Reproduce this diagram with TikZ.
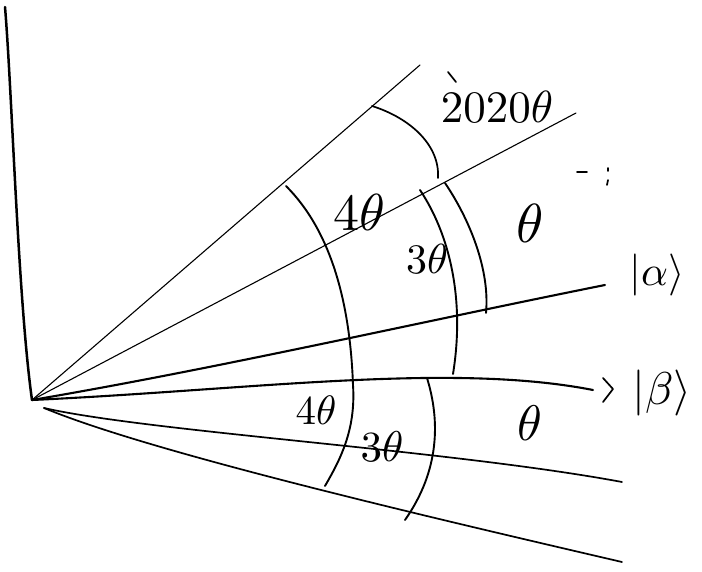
\documentclass[tikz,border=0pt]{standalone}
\usetikzlibrary{calc}
\tikzset{
  every picture/.style={line cap=round, line join=round},
  thinray/.style={line width=1.1pt},
  ray/.style={line width=2.1pt},
  arcline/.style={line width=1.9pt},
  pen/.style={line width=1.7pt},
  lbl/.style={scale=#1, inner sep=0pt},
  lbl/.default=4,
}
\begin{document}
\begin{tikzpicture}[x=1pt, y=-1pt]
  \useasboundingbox (0,0) rectangle (702,572);
  \coordinate (O) at (32,400);
  \coordinate (O2) at (44,408);
  \coordinate (top) at (5,7);
  \coordinate (r1) at (420,65);
  \coordinate (r2) at (576,113);
  \coordinate (ra) at (605,285);
  \coordinate (rb) at (593,390);
  \coordinate (rc) at (622,482);
  \coordinate (rd) at (622,562);
  \draw[ray, line width=2.5pt] (top) .. controls (12,90) and (18,300) .. (O);
  \draw[thinray] (O) -- (r1);
  \draw[thinray] (O) -- (r2);
  \draw[ray] (O) .. controls (220,368) and (420,322) .. (ra);
  \draw[ray] (O) .. controls (250,390) and (450,362) .. (rb);
  \draw[pen] ($(rb)+(10,-12)$) -- ($(rb)+(20,-1)$) -- ($(rb)+(10,12)$);
  \draw[pen] (O2) .. controls (150,432) and (450,450) .. (rc);
  \draw[pen] (O2) .. controls (150,452) and (420,515) .. (rd);
  % arcs
  \draw[pen] (372,106) .. controls (410,118) and (440,145) .. (438,178);
  \draw[arcline] (286,186) .. controls (330,230) and (350,300) .. (353,385)
    .. controls (356,430) and (340,460) .. (325,486);
  \draw[arcline] (420,190) .. controls (450,235) and (465,300) .. (453,374);
  \draw[arcline] (445,183) .. controls (470,220) and (490,270) .. (486,313);
  \draw[arcline] (427,378) .. controls (440,420) and (440,470) .. (405,520);
  % stray marks
  \draw[pen] (448,72) -- (456,82);
  \draw[pen] (577,172) -- (587,172);
  \draw[pen] (608,168) -- (608,171);
  \draw[pen] (608,180) -- (607,185);
  % labels
  \node[lbl=4.5] (l2020) at (497,107) {$2020\theta$};
  \node[lbl=5.2] (l4up) at (359,212) {$4\theta$};
  \node[lbl=4.2] (l3up) at (427,259) {$3\theta$};
  \node[lbl=5.5] (lthup) at (530,223) {$\theta$};
  \node[lbl=4.2] (lalpha) at (657,275) {$|\alpha\rangle$};
  \node[lbl=4.6] (lbeta) at (662,393) {$|\beta\rangle$};
  \node[lbl=5.0] (lthlo) at (530,423) {$\theta$};
  \node[lbl=4.1] (l4lo) at (316,410) {$4\theta$};
  \node[lbl=4.3] (l3lo) at (382,447) {$3\theta$};
\end{tikzpicture}
\end{document}
